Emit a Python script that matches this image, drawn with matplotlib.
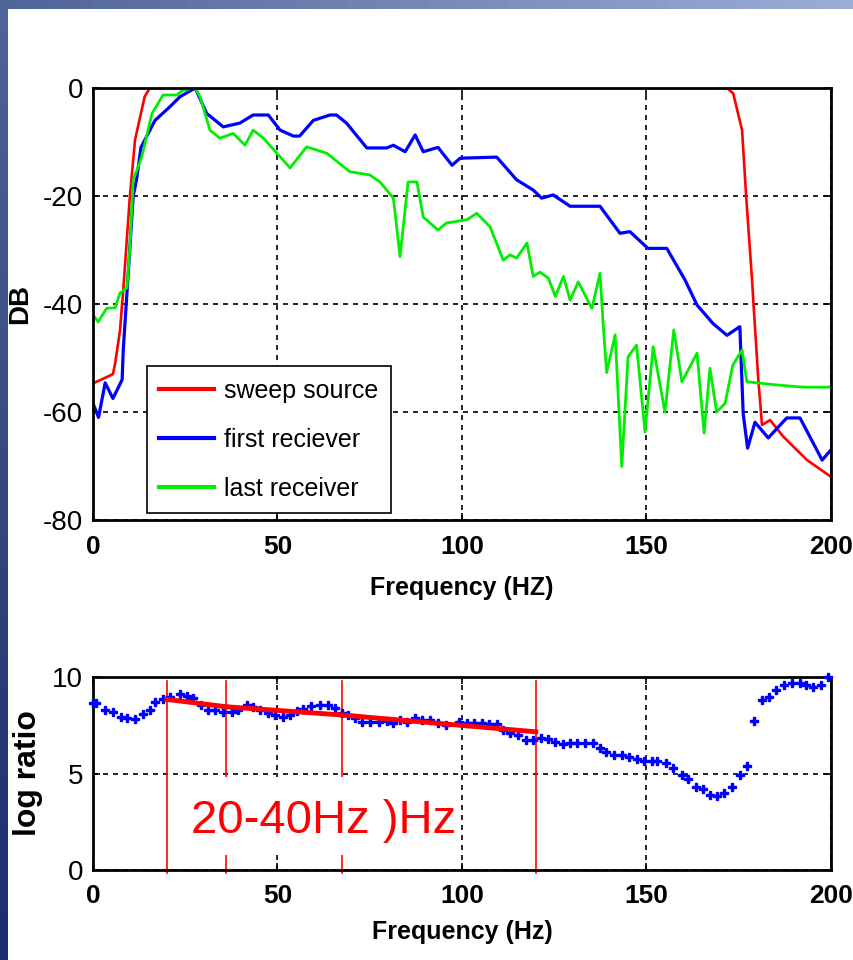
import matplotlib
matplotlib.use("Agg")
import matplotlib.pyplot as plt
import numpy as np
from matplotlib.colors import LinearSegmentedColormap
from matplotlib.patches import Rectangle

# top panel: spectra in dB
red_f = [0, 5.4, 6.0, 7.3, 8.2, 10.0, 11.4, 14.0, 15.4, 171.8, 173.5, 175.9, 177.0,
         178.6, 179.0, 180.3, 181.3, 183.5, 187.0, 193.5, 200.0]
red_db = [-54.7, -53.0, -51.0, -45.0, -37.4, -20.0, -9.6, -1.6, 0.0, 0.0, -1.0, -7.8, -20.0,
          -35.5, -40.0, -54.0, -62.4, -61.5, -64.5, -68.9, -72.0]

blue_f = [0, 1.5, 3.3, 5.4, 7.9, 8.2, 9.2, 10.9, 11.8, 13.0, 16.8, 20.8, 23.6, 27.7,
          30.8, 35.3, 39.8, 43.4, 47.5, 50.7, 54.3, 56.0, 59.7, 64.2, 66.0, 68.7, 74.2,
          79.6, 81.4, 84.6, 87.3, 89.5, 93.5, 97.3, 99.5, 109.4, 114.8, 119.3, 121.6,
          124.7, 129.3, 137.4, 142.8, 145.5, 150.4, 155.5, 160.4, 163.7, 168.0, 171.8,
          175.3, 176.2, 177.4, 179.4, 183.0, 188.0, 191.6, 197.6, 200.0]
blue_db = [-58.4, -61.0, -54.6, -57.5, -54.0, -48.5, -38.0, -20.0, -17.0, -11.0, -6.0,
           -3.5, -1.6, 0.0, -4.7, -7.2, -6.5, -5.0, -5.0, -7.8, -8.9, -8.9, -6.0, -5.0,
           -5.0, -6.5, -11.1, -11.1, -10.6, -11.8, -8.7, -11.8, -11.0, -14.3, -13.0,
           -12.8, -17.0, -18.9, -20.4, -19.8, -21.9, -21.9, -26.9, -26.6, -29.7, -29.7,
           -35.5, -40.2, -43.6, -45.8, -44.2, -60.3, -66.7, -61.9, -64.8, -61.1, -61.1,
           -68.9, -67.0]

green_f = [0, 1.4, 3.7, 6.0, 7.3, 9.2, 10.0, 10.9, 13.2, 16.0, 19.0, 22.7, 24.4, 27.7,
           29.0, 31.7, 34.4, 38.0, 41.2, 43.4, 46.2, 53.4, 57.9, 63.4, 69.6, 75.0, 77.8,
           81.4, 83.2, 85.4, 87.8, 89.5, 93.5, 95.8, 101.3, 104.0, 107.6, 111.2, 113.0,
           114.8, 117.6, 119.3, 121.1, 123.4, 125.3, 127.5, 129.3, 131.5, 135.2, 137.4,
           138.3, 139.2, 141.5, 143.3, 145.0, 147.3, 149.6, 151.8, 155.0, 157.4, 159.6,
           163.7, 165.6, 167.2, 169.0, 171.3, 173.4, 175.9, 177.2, 185.4, 192.4, 200.0]
green_db = [-42.0, -43.3, -40.8, -40.7, -38.0, -37.0, -29.4, -17.0, -12.8, -4.7, -1.3,
            -1.3, -0.4, 0.0, -1.6, -7.8, -9.3, -8.4, -10.6, -7.8, -9.3, -14.8, -10.9,
            -12.1, -15.5, -16.1, -17.4, -20.4, -31.2, -17.4, -17.4, -23.9, -26.3, -25.0,
            -24.4, -23.2, -25.7, -31.9, -30.9, -31.5, -28.7, -34.9, -34.1, -35.2, -38.6,
            -34.9, -39.3, -35.9, -40.8, -34.3, -44.2, -52.7, -45.7, -70.1, -49.8, -47.6,
            -63.7, -47.9, -60.0, -44.8, -54.4, -49.1, -63.9, -51.9, -60.0, -58.4, -51.3,
            -48.5, -54.4, -55.0, -55.4, -55.4]

series_labels = ["sweep source", "first reciever", "last receiver"]

# bottom panel: log spectral ratio
ratio_f = [0.1, 0.9, 3.2, 5.5, 7.5, 9.1, 11.4, 13.6, 15.4, 16.8, 19.1, 20.9, 23.6, 25.4,
           27.2, 29.4, 31.3, 33.1, 35.3, 37.6, 39.4, 41.6, 43.4, 45.3, 47.5, 49.3, 51.5,
           53.4, 55.2, 57.0, 59.2, 61.5, 63.8, 65.6, 67.4, 69.2, 71.0, 72.8, 75.1, 77.4,
           79.6, 81.4, 83.2, 85.2, 87.3, 89.1, 91.4, 93.4, 95.6, 99.3, 101.3, 103.2,
           105.3, 107.4, 109.4, 111.2, 113.0, 115.3, 117.3, 119.3, 121.3, 123.4, 125.2,
           127.5, 129.3, 131.2, 133.3, 135.4, 137.4, 139.0, 141.2, 143.3, 145.2, 147.3,
           149.3, 151.4, 152.9, 155.2, 157.3, 159.5, 161.2, 163.3, 165.2, 167.2, 169.0,
           171.1, 173.2, 175.3, 177.3, 179.2, 181.2, 183.2, 185.0, 187.2, 189.3, 191.5,
           193.2, 195.2, 197.2, 199.2]
ratio_v = [8.67, 8.63, 8.29, 8.20, 7.94, 7.86, 7.82, 8.07, 8.29, 8.72, 8.84, 8.98, 9.10,
           9.01, 8.89, 8.55, 8.29, 8.29, 8.20, 8.20, 8.29, 8.55, 8.46, 8.29, 8.12, 8.03,
           7.94, 8.03, 8.24, 8.32, 8.50, 8.55, 8.55, 8.38, 8.15, 8.03, 7.86, 7.68, 7.68,
           7.68, 7.72, 7.63, 7.77, 7.68, 7.86, 7.77, 7.77, 7.60, 7.50, 7.68, 7.60, 7.63,
           7.63, 7.56, 7.56, 7.25, 7.08, 7.00, 6.74, 6.74, 6.82, 6.77, 6.65, 6.53, 6.56,
           6.56, 6.56, 6.56, 6.30, 6.13, 5.96, 5.96, 5.87, 5.75, 5.65, 5.65, 5.65, 5.53,
           5.27, 4.93, 4.70, 4.29, 4.18, 3.89, 3.84, 4.01, 4.29, 4.93, 5.40, 7.73, 8.81,
           8.95, 9.33, 9.59, 9.71, 9.67, 9.59, 9.47, 9.59, 10.02]

band_edges = [20, 36, 67.5, 120]
fit_start_v = [8.84, 8.46, 8.03]
fit_end_v = [8.46, 8.03, 7.16]
band_text = "20-40Hz )Hz"

plt.rcParams["font.family"] = ["Liberation Sans", "DejaVu Sans"]
plt.rcParams["axes.unicode_minus"] = False

fig = plt.figure(figsize=(8.54, 9.6), dpi=100, facecolor="white")

# slide border strips
left_strip = fig.add_axes([0, 0, 8 / 854, 1])
left_strip.imshow(np.linspace(0, 1, 64).reshape(-1, 1), aspect="auto",
                  cmap=LinearSegmentedColormap.from_list("l", ["#4f6499", "#1a2d6d"]))
left_strip.axis("off")
top_strip = fig.add_axes([0, 1 - 9 / 960, 1, 9 / 960])
top_strip.imshow(np.linspace(0, 1, 64).reshape(1, -1), aspect="auto",
                 cmap=LinearSegmentedColormap.from_list("t", ["#4f6499", "#9dadd5"]))
top_strip.axis("off")

grid_kw = dict(color="black", linestyle=(0, (3, 3)), linewidth=1.2)


def style_axis(ax):
    for spine in ax.spines.values():
        spine.set_linewidth(2)
    ax.tick_params(direction="in", top=True, right=True, length=5, width=1.2)
    ax.tick_params(axis="x", labelsize=19, pad=11)
    ax.tick_params(axis="y", labelsize=20, pad=7)
    for label in ax.get_xticklabels():
        label.set_fontweight("bold")


# top panel
ax1 = fig.add_axes([93 / 854, 1 - 520 / 960, 738 / 854, 432 / 960])
ax1.plot(red_f, red_db, color="#ff0000", linewidth=1.9, label=series_labels[0])
ax1.plot(blue_f, blue_db, color="#0000ff", linewidth=2.3, label=series_labels[1])
ax1.plot(green_f, green_db, color="#00ee00", linewidth=2.0, label=series_labels[2])
ax1.set_xlim(0, 200)
ax1.set_ylim(-80, 0)
ax1.set_xticks([0, 50, 100, 150, 200])
ax1.set_yticks([0, -20, -40, -60, -80])
ax1.grid(True, **grid_kw)
style_axis(ax1)
ax1.set_xlabel("Frequency (HZ)", fontweight="bold", fontsize=18, labelpad=12)
ax1.set_ylabel("DB", fontweight="bold", fontsize=20)
ax1.yaxis.set_label_coords(-0.081, 0.5)
leg = ax1.legend(loc="lower left", bbox_to_anchor=(0.073, 0.016), borderaxespad=0,
                 fancybox=False, framealpha=1, edgecolor="black", handlelength=2.2,
                 prop={"size": 18}, labelspacing=1.0, borderpad=0.5,
                 handletextpad=0.4)
leg.get_frame().set_linewidth(1.2)
for line in leg.get_lines():
    line.set_linewidth(3)

# bottom panel
ax2 = fig.add_axes([93 / 854, 1 - 870 / 960, 738 / 854, 193 / 960])
ax2.plot(ratio_f, ratio_v, linestyle="none", marker="P", markersize=6.0,
         color="#0000ff", clip_on=False, zorder=3)
for i in range(len(fit_start_v)):
    ax2.plot([band_edges[i], band_edges[i + 1]], [fit_start_v[i], fit_end_v[i]],
             color="#ff0000", linewidth=3.5, zorder=4)
for edge in band_edges:
    ax2.plot([edge, edge], [-0.17, 9.8], color="#ff0000", linewidth=1.2,
             clip_on=False, zorder=2)
ax2.add_patch(Rectangle((23.6, 0.78), 99.5 - 23.6, 4.82 - 0.78, facecolor="white",
                        edgecolor="none", zorder=5))
ax2.text(26.6, 1.92, band_text, color="#ff0000", fontsize=34,
         ha="left", va="baseline", zorder=6)
ax2.set_xlim(0, 200)
ax2.set_ylim(0, 10)
ax2.set_xticks([0, 50, 100, 150, 200])
ax2.set_yticks([0, 5, 10])
ax2.grid(True, **grid_kw)
style_axis(ax2)
ax2.tick_params(axis="x", pad=10)
ax2.set_xlabel("Frequency (Hz)", fontweight="bold", fontsize=18, labelpad=9)
ax2.set_ylabel("log ratio", fontweight="bold", fontsize=23)
ax2.yaxis.set_label_coords(-0.068, 0.5)

fig.savefig("out.png", dpi=100, facecolor="white")
